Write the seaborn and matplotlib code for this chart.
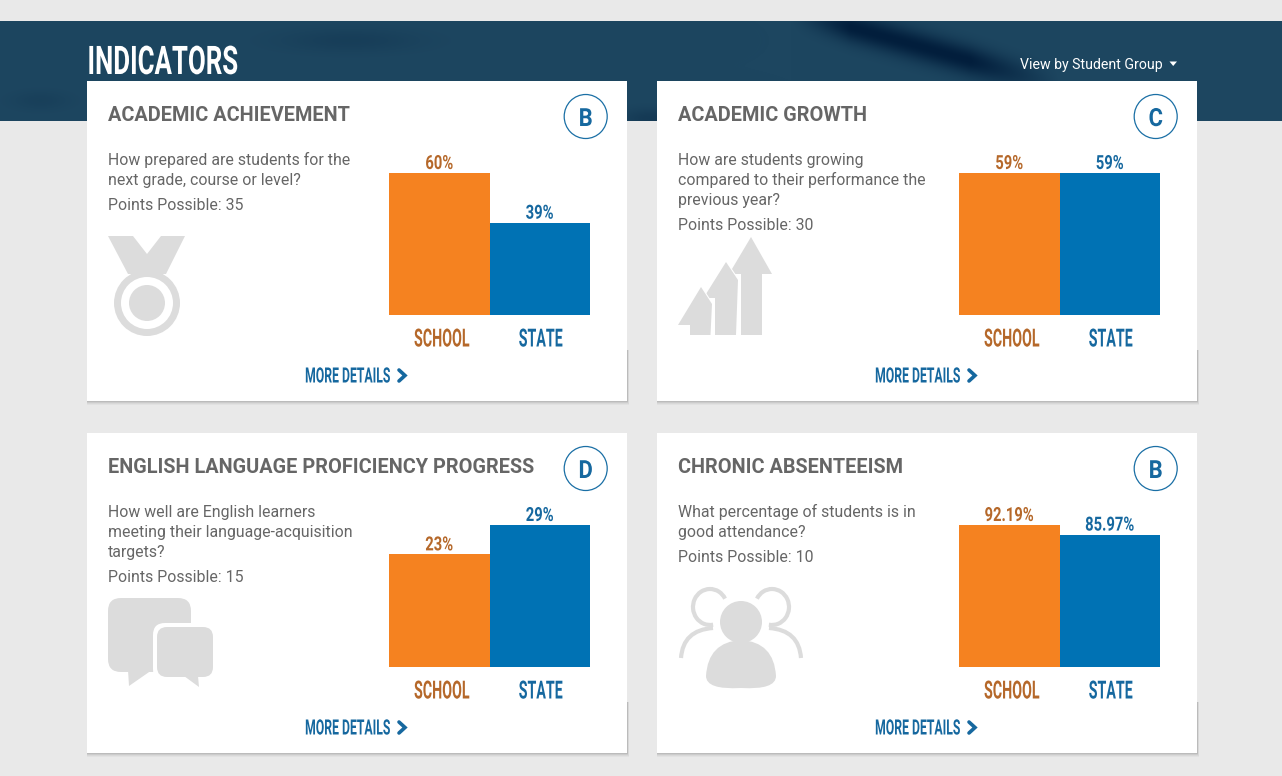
import numpy as np
import matplotlib
matplotlib.use('Agg')
import matplotlib.pyplot as plt
import matplotlib.patches as mp
from matplotlib.path import Path
from matplotlib.patheffects import AbstractPathEffect
from matplotlib.transforms import Affine2D
import seaborn as sns

titles = ['ACADEMIC ACHIEVEMENT', 'ACADEMIC GROWTH', 'ENGLISH LANGUAGE PROFICIENCY PROGRESS', 'CHRONIC ABSENTEEISM']
questions = [
    ['How prepared are students for the', 'next grade, course or level?'],
    ['How are students growing', 'compared to their performance the', 'previous year?'],
    ['How well are English learners', 'meeting their language-acquisition', 'targets?'],
    ['What percentage of students is in', 'good attendance?'],
]
points = [35, 30, 15, 10]
grades = ['B', 'C', 'D', 'B']
categories = ['SCHOOL', 'STATE']
school_values = [60, 59, 23, 92.19]
state_values = [39, 59, 29, 85.97]
school_labels = ['60%', '59%', '23%', '92.19%']
state_labels = ['39%', '59%', '29%', '85.97%']

W, H = 1282, 776
BG = '#e9e9e9'
ORANGE = '#f58220'
BLUE = '#0072b4'
ORANGE_TXT = '#b5682a'
BLUE_TXT = '#16689f'
GREY_TXT = '#666666'
ICON = '#dcdcdc'


# no condensed font is installed, so squeeze the glyphs sideways when drawing
class Squeeze(AbstractPathEffect):
    def __init__(self, sx, center=False, shift=0):
        super().__init__()
        self.sx = sx
        self.center = center
        self.shift = shift

    def draw_path(self, renderer, gc, tpath, affine, rgbFace=None):
        box = tpath.get_extents(affine)
        x0 = box.x0 + box.width / 2 if self.center else box.x0
        squeezed = affine + Affine2D().translate(-x0, 0).scale(self.sx, 1).translate(x0 + self.shift, 0)
        renderer.draw_path(gc, tpath, squeezed, rgbFace)


sns.set_theme(style='white')
plt.rcParams['font.family'] = ['Roboto', 'DejaVu Sans']

fig = plt.figure(figsize=(W / 100, H / 100), dpi=100, facecolor=BG)
bg = fig.add_axes([0, 0, 1, 1])
bg.axis('off')

# banner behind the cards, just a soft texture
xx, yy = np.meshgrid(np.arange(W), np.arange(21, 121))
base = np.array([29, 70, 96]) / 255
dark = np.array([2, 30, 60]) / 255
dist = (yy - 33) - (xx - 873) * 0.28
streak = np.exp(-(dist / 15) ** 2) * np.clip((xx - 790) / 60, 0, 1) * np.clip((1060 - xx) / 90, 0, 1)
blob = 0.2 * np.exp(-(((xx - 350) / 70) ** 2 + ((yy - 40) / 12) ** 2))
blob2 = 0.3 * np.exp(-(((xx - 650) / 30) ** 2 + ((yy - 118) / 10) ** 2))
blob3 = 0.15 * np.exp(-(((xx - 40) / 30) ** 2 + ((yy - 100) / 10) ** 2))
mix = np.clip(streak + blob + blob2 + blob3, 0, 1)[..., None]
banner = base * (1 - mix) + dark * mix
bg.imshow(banner, extent=(0, W, 121, 21), aspect='auto', zorder=0)
bg.set_xlim(0, W)
bg.set_ylim(H, 0)

bg.text(86.5, 74, 'INDICATORS', color='white', fontsize=28.4, fontweight='bold', zorder=3,
        path_effects=[Squeeze(0.655)])
bg.text(1020.5, 69, 'View by Student Group', color='white', fontsize=10.2, zorder=3)
bg.add_patch(mp.Polygon([(1169.5, 61.5), (1177, 61.5), (1173.2, 66)], color='white', lw=0, zorder=3))


def draw_medal():
    bg.add_patch(mp.Polygon([(108, 236), (133, 236), (147, 254), (161, 236), (185, 236), (166, 274), (128, 274)], color=ICON, lw=0, zorder=3))
    bg.add_patch(mp.Circle((147, 303), 33, color=ICON, lw=0, zorder=3))
    bg.add_patch(mp.Circle((147, 303), 26, color='white', lw=0, zorder=3))
    bg.add_patch(mp.Circle((147, 303), 18, color=ICON, lw=0, zorder=3))


def draw_arrows():
    big = [(751, 237), (772, 274), (762, 274), (762, 335), (741, 335), (741, 274), (729, 274)]
    mid = [(726, 262), (738, 280), (736, 335), (715, 335), (715, 298), (703.5, 298)]
    small = [(701, 287), (712, 304), (710.5, 335), (690, 335), (690, 325), (678, 325)]
    for arrow in (big, mid, small):
        # white halo first so each arrow stands off the one behind it
        bg.add_patch(mp.Polygon(arrow, fc='white', ec='white', lw=1.6, zorder=3))
        bg.add_patch(mp.Polygon(arrow, fc=ICON, lw=0, zorder=3))


def draw_bubbles():
    bg.add_patch(mp.FancyBboxPatch((108, 598), 83, 74, boxstyle='round,pad=0,rounding_size=13', color=ICON, lw=0, zorder=3))
    bg.add_patch(mp.Polygon([(128, 670), (129, 686), (152, 670)], color=ICON, lw=0, zorder=3))
    bg.add_patch(mp.FancyBboxPatch((153, 623), 64, 58, boxstyle='round,pad=0,rounding_size=12', color='white', lw=0, zorder=3))
    bg.add_patch(mp.FancyBboxPatch((157, 627), 56, 50, boxstyle='round,pad=0,rounding_size=10', color=ICON, lw=0, zorder=3))
    bg.add_patch(mp.Polygon([(184, 676), (199, 687), (198, 676)], color=ICON, lw=0, zorder=3))


def draw_people():
    bg.add_patch(mp.Circle((741, 622), 21, color=ICON, lw=0, zorder=3))
    verts = [(706, 676), (708, 642), (741, 640), (774, 642), (776, 676), (776, 690), (741, 688), (706, 690), (706, 676)]
    codes = [Path.MOVETO] + [Path.CURVE3] * 8
    bg.add_patch(mp.PathPatch(Path(verts, codes), color=ICON, lw=0, zorder=3))
    bg.add_patch(mp.Arc((710, 607), 34, 36, theta1=80, theta2=331, color=ICON, lw=3, zorder=3))
    bg.add_patch(mp.Arc((772, 607), 34, 36, theta1=209, theta2=460, color=ICON, lw=3, zorder=3))
    for sign in (-1, 1):
        shoulder = [(741 + sign * 60, 658), (741 + sign * 58, 630), (741 + sign * 28, 628)]
        bg.add_patch(mp.PathPatch(Path(shoulder, [Path.MOVETO, Path.CURVE3, Path.CURVE3]), fc='none', ec=ICON, lw=3, zorder=3))


icons = [draw_medal, draw_arrows, draw_bubbles, draw_people]
card_x = [87, 657, 87, 657]
card_y = [81, 81, 433, 433]

for i in range(4):
    ox, oy = card_x[i], card_y[i]
    # shadow, a few see-through layers
    for k, a in zip([4, 3, 2, 1], [0.03, 0.04, 0.06, 0.08]):
        bg.add_patch(mp.Rectangle((ox, oy + 269), 540 + k * 0.6, 51 + k, color='black', alpha=a, lw=0, zorder=1))
    bg.add_patch(mp.Rectangle((ox, oy), 540, 320, color='white', lw=0, zorder=2))

    bg.text(ox + 20.5, oy + 40, titles[i], color=GREY_TXT, fontsize=14.35, fontweight='bold', zorder=3)
    bg.add_patch(mp.Ellipse((ox + 498.7, oy + 35.5), 43, 44, fc='white', ec='#1a6fa5', lw=0.9, zorder=3))
    bg.text(ox + 498.7, oy + 45, grades[i], color=BLUE_TXT, fontsize=18, fontweight='bold', ha='center', zorder=4,
            path_effects=[Squeeze(0.88, center=True)])

    y = oy + 84
    for line in questions[i]:
        bg.text(ox + 20.5, y, line, color=GREY_TXT, fontsize=11.45, zorder=3)
        y += 20
    bg.text(ox + 20.5, y + 5, f'Points Possible: {points[i]}', color=GREY_TXT, fontsize=11.45, zorder=3)

    icons[i]()

    bg.text(ox + 217.5, oy + 301.5, 'MORE DETAILS', color=BLUE_TXT, fontsize=15.2, fontweight='bold', zorder=3,
            path_effects=[Squeeze(0.58)])
    bg.plot([ox + 312, ox + 318, ox + 312], [oy + 289, oy + 294.5, oy + 300], color=BLUE_TXT, lw=2.6, solid_joinstyle='miter', zorder=3)

    # bars sit in their own small axes
    ax = fig.add_axes([(ox + 302) / W, 1 - (oy + 234) / H, 201 / W, 142 / H], zorder=5)
    ax.patch.set_alpha(0)
    values = [school_values[i], state_values[i]]
    labels = [school_labels[i], state_labels[i]]
    sns.barplot(x=categories, y=values, hue=categories, palette=[ORANGE, BLUE], width=1, saturation=1,
                legend=False, linewidth=0, ax=ax)
    ax.set_xlim(-0.5, 1.5)
    ax.set_ylim(0, max(values))
    ax.set_yticks([])
    ax.set_xlabel('')
    ax.set_ylabel('')
    sns.despine(ax=ax, left=True, bottom=True)
    ax.tick_params(axis='x', length=0, pad=9)
    for tick, col, nudge in zip(ax.get_xticklabels(), [ORANGE_TXT, BLUE_TXT], [2.5, 1]):
        tick.set_color(col)
        tick.set_fontsize(18)
        tick.set_fontweight('bold')
        tick.set_path_effects([Squeeze(0.57, center=True, shift=nudge)])
    for cont, lab, col in zip(ax.containers, labels, [ORANGE_TXT, BLUE_TXT]):
        for t in ax.bar_label(cont, labels=[lab], padding=0, color=col, fontsize=14, fontweight='bold', clip_on=False):
            t.set_path_effects([Squeeze(0.76, center=True)])

fig.savefig('out.png', dpi=100, facecolor=BG)
